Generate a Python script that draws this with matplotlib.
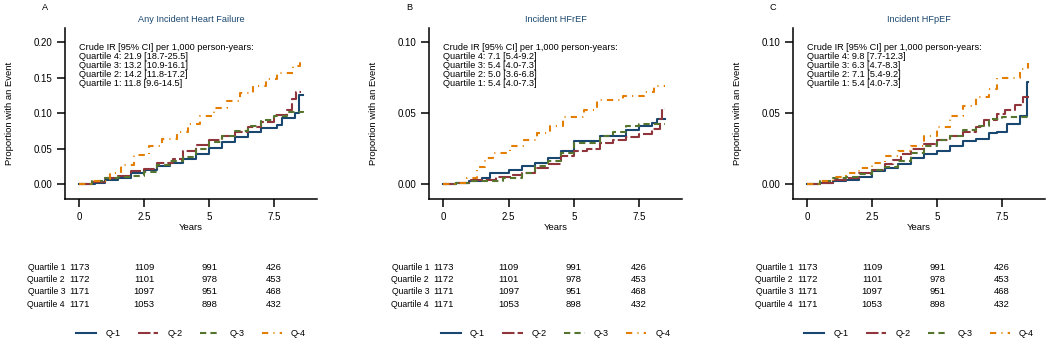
import numpy as np
import matplotlib
matplotlib.use('Agg')
import matplotlib.pyplot as plt
import matplotlib.transforms as mtrans

plt.rcParams['font.family'] = ['Liberation Sans', 'DejaVu Sans']

#----------------------------------------------------------------------------------------------
# data (cumulative proportion with an event, step curves)

# A - any incident heart failure
a_t1 = [0, 0.6, 1, 1.5, 2, 2.5, 3, 3.5, 4, 4.5, 5, 5.5, 6, 6.5, 7, 7.6, 7.8, 8.3, 8.45, 8.6]
a_q1 = [0, 0.002, 0.006, 0.009, 0.016, 0.020, 0.025, 0.030, 0.035, 0.043, 0.051, 0.059, 0.067, 0.073, 0.079, 0.083, 0.093, 0.100, 0.125, 0.125]
a_t2 = [0, 0.5, 1, 1.5, 2, 2.5, 3, 3.6, 4, 4.5, 5, 5.5, 6, 6.5, 7, 7.5, 8, 8.2, 8.35, 8.55]
a_q2 = [0, 0.003, 0.008, 0.012, 0.018, 0.021, 0.030, 0.035, 0.047, 0.055, 0.062, 0.068, 0.073, 0.080, 0.088, 0.097, 0.105, 0.120, 0.130, 0.130]
a_t3 = [0, 0.5, 1, 1.5, 2, 2.5, 3, 3.5, 4, 4.5, 5, 5.5, 6, 6.5, 7, 7.5, 8, 8.6]
a_q3 = [0, 0.004, 0.008, 0.010, 0.012, 0.017, 0.027, 0.032, 0.038, 0.050, 0.060, 0.068, 0.075, 0.082, 0.090, 0.096, 0.102, 0.103]
a_t4 = [0, 0.5, 1.2, 1.6, 2.1, 2.7, 3.2, 3.75, 4.2, 4.65, 5.2, 5.7, 6.2, 6.7, 7.2, 7.6, 8.0, 8.24, 8.5]
a_q4 = [0, 0.005, 0.016, 0.027, 0.041, 0.053, 0.063, 0.074, 0.085, 0.096, 0.107, 0.117, 0.128, 0.138, 0.148, 0.156, 0.156, 0.166, 0.172]

# B - incident HFrEF
b_t1 = [0, 0.5, 1, 1.5, 1.8, 2.5, 3, 3.5, 4, 4.5, 5, 6, 7, 7.5, 8, 8.2, 8.5]
b_q1 = [0, 0.001, 0.002, 0.004, 0.008, 0.010, 0.013, 0.015, 0.018, 0.023, 0.030, 0.034, 0.038, 0.041, 0.043, 0.046, 0.046]
b_t2 = [0, 0.5, 1, 2, 2.6, 3, 3.5, 4, 4.5, 5, 5.5, 6, 6.5, 7, 7.5, 8, 8.3, 8.4, 8.5]
b_q2 = [0, 0.001, 0.003, 0.005, 0.006, 0.008, 0.011, 0.014, 0.020, 0.023, 0.025, 0.029, 0.031, 0.033, 0.035, 0.039, 0.046, 0.053, 0.053]
b_t3 = [0, 0.5, 1, 2, 2.3, 3, 3.5, 4, 4.5, 5, 6, 6.5, 7, 7.5, 8.5]
b_q3 = [0, 0.001, 0.002, 0.002, 0.004, 0.008, 0.013, 0.016, 0.022, 0.029, 0.034, 0.037, 0.041, 0.042, 0.042]
b_t4 = [0, 0.5, 0.9, 1.28, 1.6, 1.92, 2.56, 3.1, 3.6, 4.1, 4.6, 5.4, 5.9, 6.9, 7.7, 8.08, 8.5]
b_q4 = [0, 0.001, 0.004, 0.012, 0.018, 0.022, 0.027, 0.031, 0.036, 0.041, 0.047, 0.052, 0.059, 0.062, 0.065, 0.069, 0.069]

# C - incident HFpEF
c_t1 = [0, 0.5, 1, 1.5, 2, 2.5, 3, 3.5, 4, 4.5, 5, 5.5, 6, 6.5, 7, 7.3, 7.7, 8.2, 8.45, 8.5]
c_q1 = [0, 0.001, 0.002, 0.003, 0.005, 0.009, 0.011, 0.014, 0.018, 0.021, 0.023, 0.027, 0.030, 0.032, 0.036, 0.037, 0.042, 0.048, 0.072, 0.072]
c_t2 = [0, 0.5, 1, 1.5, 2, 2.5, 3, 3.3, 3.6, 4, 4.5, 5, 5.5, 6, 6.5, 6.8, 7.3, 7.6, 8, 8.3, 8.55]
c_q2 = [0, 0.001, 0.003, 0.004, 0.008, 0.010, 0.014, 0.017, 0.021, 0.025, 0.028, 0.031, 0.034, 0.037, 0.040, 0.045, 0.049, 0.052, 0.056, 0.061, 0.061]
c_t3 = [0, 0.5, 1, 1.5, 2, 2.5, 3, 3.5, 4, 4.5, 5, 5.5, 6, 6.5, 7, 7.5, 8.5]
c_q3 = [0, 0.002, 0.004, 0.005, 0.007, 0.010, 0.012, 0.016, 0.022, 0.027, 0.031, 0.034, 0.038, 0.041, 0.046, 0.047, 0.049]
c_t4 = [0, 0.5, 1, 1.5, 2, 2.5, 3, 3.5, 4, 4.5, 5, 5.5, 6, 6.5, 7, 7.3, 8, 8.2, 8.5]
c_q4 = [0, 0.002, 0.005, 0.008, 0.011, 0.015, 0.020, 0.023, 0.027, 0.034, 0.040, 0.048, 0.055, 0.061, 0.067, 0.075, 0.075, 0.081, 0.085]

# crude incidence rates per panel, quartile 4 .. 1
ir_a = ['21.9 [18.7-25.5]', '13.2 [10.9-16.1]', '14.2 [11.8-17.2]', '11.8 [9.6-14.5]']
ir_b = ['7.1 [5.4-9.2]', '5.4 [4.0-7.3]', '5.0 [3.6-6.8]', '5.4 [4.0-7.3]']
ir_c = ['9.8 [7.7-12.3]', '6.3 [4.7-8.3]', '7.1 [5.4-9.2]', '5.4 [4.0-7.3]']

# number at risk (same for all panels)
risk_times = [0, 2.5, 5, 7.5]
risk_q1 = [1173, 1109, 991, 426]
risk_q2 = [1172, 1101, 978, 453]
risk_q3 = [1171, 1097, 951, 468]
risk_q4 = [1171, 1053, 898, 432]

series_labels = ['Q-1', 'Q-2', 'Q-3', 'Q-4']
x_ticks = [0, 2.5, 5, 7.5]
x_ticklabels = ['0', '2.5', '5', '7.5']

#----------------------------------------------------------------------------------------------
colors = ['#1a476f', '#90353b', '#55752f', '#e37e00']
styles = ['-', (0, (6, 1.5)), (0, (3, 2)), (0, (3, 2.5, 0.5, 2.5))]
title_color = '#1a476f'

W, H = 1050, 343

#----------------------------------------------------------------------------------------------
def fig_rect(left, top, right, bottom):
    # pixel box (from top-left) -> figure fraction
    return [left / W, 1 - bottom / H, (right - left) / W, (bottom - top) / H]

#----------------------------------------------------------------------------------------------
def drawPanel(fig, box, letter, title, curves, ylim, yticks, ir):

    left, top, right, bottom = box
    aw, ah = float(right - left), float(bottom - top)

    ax = fig.add_axes(fig_rect(*box))

    for (t, q), c, ls, lab in zip(curves, colors, styles, series_labels):
        ax.plot(t, q, drawstyle='steps-post', color=c, linestyle=ls, lw=1.5, label=lab)

    ax.set_xlim(-0.55, 9.15)
    ax.set_ylim(*ylim)
    ax.set_xticks(x_ticks)
    ax.set_xticklabels(x_ticklabels)
    ax.set_yticks(yticks)
    ax.set_yticklabels(['{:.2f}'.format(v) for v in yticks])

    for s in ['top', 'right']:
        ax.spines[s].set_visible(False)
    for s in ['left', 'bottom']:
        ax.spines[s].set_linewidth(1.1)

    ax.tick_params(axis='both', length=5.5, width=1.1, labelsize=7)
    ax.tick_params(axis='y', pad=3.6)
    ax.tick_params(axis='x', pad=4)

    # offsets below are pixels measured relative to the axes box
    ax.set_xlabel('Years', fontsize=6.8)
    ax.xaxis.set_label_coords(0.5, -(228 - bottom) / ah)
    ax.xaxis.label.set_va('center')
    ax.set_ylabel('Proportion with an Event', fontsize=6.8)
    ax.yaxis.set_label_coords(-55 / aw, 0.5)
    ax.yaxis.label.set_va('center')

    ax.text(0.5, (bottom - 19) / ah, title, transform=ax.transAxes, fontsize=6.6,
            color=title_color, ha='center', va='center')
    ax.text(-23 / aw, (bottom - 7) / ah, letter, transform=ax.transAxes,
            fontsize=6.6, ha='left', va='center')

    lines = ['Crude IR [95% CI] per 1,000 person-years:']
    for k, v in zip([4, 3, 2, 1], ir):
        lines.append('Quartile {}: {}'.format(k, v))
    ax.text(0, (bottom - 43) / ah, '\n'.join(lines),
            transform=mtrans.blended_transform_factory(ax.transData, ax.transAxes),
            fontsize=6.6, ha='left', va='top', linespacing=1.0)

    # number at risk table
    tr = mtrans.blended_transform_factory(ax.transData, fig.transFigure)
    rows = [risk_q1, risk_q2, risk_q3, risk_q4]
    for i, row in enumerate(rows):
        yf = 1 - (267.3 + 12.3 * i) / H
        ax.text(-0.55, yf, 'Quartile {}'.format(i + 1), transform=tr, fontsize=6.2, ha='right', va='center')
        for t, n in zip(risk_times, row):
            ax.text(t, yf, str(n), transform=tr, fontsize=6.8, ha='center', va='center')

    ax.legend(loc='center', bbox_to_anchor=(0.5, -(334 - bottom) / ah), ncol=4, frameon=False,
              fontsize=6.6, handlelength=2.2, columnspacing=1.9, handletextpad=1.0)

    return ax

#----------------------------------------------------------------------------------------------
def main():

    fig = plt.figure(figsize=(W / 100, H / 100), dpi=100)

    drawPanel(fig, (65, 28, 317, 199), 'A', 'Any Incident Heart Failure',
              [(a_t1, a_q1), (a_t2, a_q2), (a_t3, a_q3), (a_t4, a_q4)],
              (-0.021, 0.22), [0, 0.05, 0.10, 0.15, 0.20], ir_a)

    drawPanel(fig, (429, 28, 682, 199), 'B', 'Incident HFrEF',
              [(b_t1, b_q1), (b_t2, b_q2), (b_t3, b_q3), (b_t4, b_q4)],
              (-0.0106, 0.11), [0, 0.05, 0.10], ir_b)

    drawPanel(fig, (793, 28, 1045, 199), 'C', 'Incident HFpEF',
              [(c_t1, c_q1), (c_t2, c_q2), (c_t3, c_q3), (c_t4, c_q4)],
              (-0.0106, 0.11), [0, 0.05, 0.10], ir_c)

    fig.savefig('out.png', dpi=100)

#------------------------------------------------------------------------------#
if __name__ == "__main__":
    main()
